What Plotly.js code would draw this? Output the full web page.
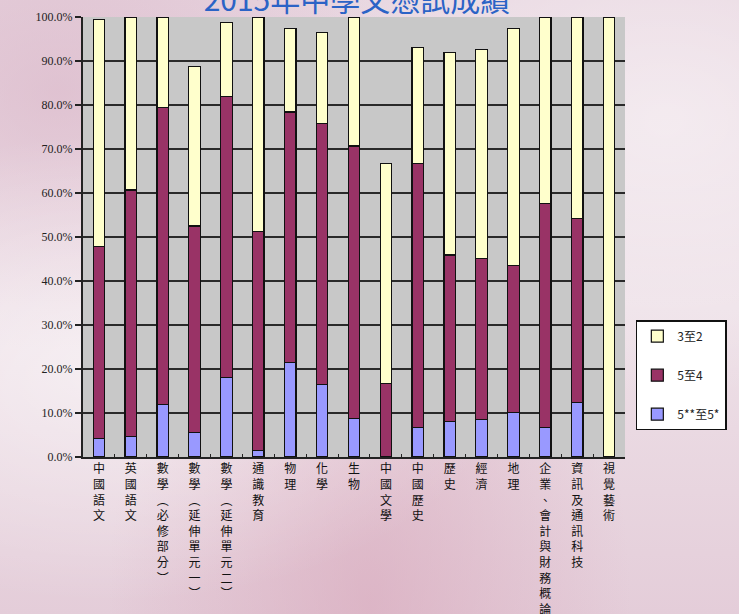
<!DOCTYPE html>
<html>
<head>
<meta charset="utf-8">
<script src="https://cdn.plot.ly/plotly-3.0.1.min.js"></script>
<style>
html,body{margin:0;padding:0;}
body{width:739px;height:614px;overflow:hidden;
background:
 radial-gradient(ellipse at 15% 60%, rgba(255,255,255,0.5), rgba(255,255,255,0) 45%),
 radial-gradient(ellipse at 90% 20%, rgba(255,255,255,0.45), rgba(255,255,255,0) 40%),
 radial-gradient(ellipse at 8% 15%, rgba(215,175,195,0.55), rgba(215,175,195,0) 35%),
 radial-gradient(ellipse at 50% 98%, rgba(215,165,185,0.6), rgba(215,165,185,0) 50%),
 linear-gradient(180deg,#e8d6e0 0%,#eee1e8 50%,#e4cdd9 100%);}
#chart{width:739px;height:614px;}
</style>
</head>
<body>
<div id="chart"></div>
<script>
const categories = ["中國語文","英國語文","數學（必修部分）","數學（延伸單元一）","數學（延伸單元二）","通識教育","物理","化學","生物","中國文學","中國歷史","歷史","經濟","地理","企業、會計與財務概論","資訊及通訊科技","視覺藝術"];
const grade5s = [4.2, 4.6, 12.0, 5.5, 18.0, 1.4, 21.4, 16.4, 8.8, 0, 6.7, 8.0, 8.6, 10.1, 6.7, 12.4, 0];
const grade54 = [43.6, 56.1, 67.4, 47.0, 63.9, 49.8, 57.0, 59.4, 61.9, 16.7, 60.0, 37.9, 36.6, 33.5, 51.0, 41.8, 0];
const grade32 = [51.7, 39.3, 20.6, 36.2, 16.8, 48.8, 18.9, 20.7, 29.3, 50.0, 26.3, 46.0, 47.4, 53.7, 42.3, 45.8, 100];
const seriesNames = ["5**至5*", "5至4", "3至2"];
const yTickVals = [0,10,20,30,40,50,60,70,80,90,100];
const yTickText = ["0.0%","10.0%","20.0%","30.0%","40.0%","50.0%","60.0%","70.0%","80.0%","90.0%","100.0%"];
const titleText = "2015年中學文憑試成績";

function vertical(s){
  return Array.from(s).map(c => c === "（" ? "︵" : (c === "）" ? "︶" : c)).join("<br>");
}
const tickText = categories.map(vertical);

const colors = ["#9999ff", "#993366", "#ffffcc"];
const values = [grade5s, grade54, grade32];
const traces = values.map((v, i) => ({
  type: "bar",
  name: seriesNames[i],
  x: categories,
  y: v,
  legendgroup: "g" + i,
  legendrank: 3 - i,
  marker: {color: colors[i], line: {color: "#111", width: 1.2}},
  hoverinfo: "x+y+name"
}));

const layout = {
  width: 739, height: 614,
  barmode: "stack",
  bargap: 0.64,
  paper_bgcolor: "rgba(0,0,0,0)",
  plot_bgcolor: "#c8c8c8",
  margin: {l: 83, r: 99, t: 17, b: 157},
  title: {text: titleText, font: {family: "Noto Sans CJK TC", size: 30, color: "#2b63c6"},
          x: 0.483, xanchor: "center", y: 1.0, yanchor: "middle", yref: "container"},
  xaxis: {
    tickvals: categories, ticktext: tickText,
    tickfont: {family: "Noto Sans CJK TC", size: 12, color: "#111"},
    tickangle: 0,
    ticks: "inside", tickson: "boundaries", ticklen: 3, tickcolor: "#222",
    showline: true, linecolor: "#222", linewidth: 2,
    showgrid: false, fixedrange: true
  },
  yaxis: {
    range: [0, 100], tickvals: yTickVals, ticktext: yTickText,
    tickfont: {family: "Liberation Serif", size: 12, color: "#222"},
    ticks: "outside", ticklen: 6, tickcolor: "#222", tickwidth: 2,
    showline: true, linecolor: "#222", linewidth: 2,
    showgrid: true, gridcolor: "#2a2a2a", gridwidth: 1.5,
    zeroline: false, fixedrange: true
  },
  legend: {
    x: 1.02, xanchor: "left", y: 0.311, yanchor: "top",
    bgcolor: "#ffffff", bordercolor: "#111", borderwidth: 1.5,
    traceorder: "grouped", tracegroupgap: 20,
    font: {family: "Noto Sans CJK TC", size: 12, color: "#222"}
  },
  showlegend: true
};

Plotly.newPlot("chart", traces, layout, {displayModeBar: false, staticPlot: true});
</script>
</body>
</html>
